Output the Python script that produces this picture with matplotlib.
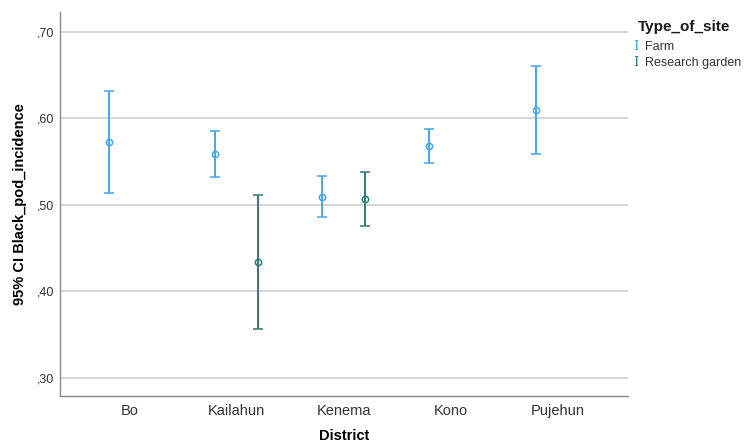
import matplotlib
import matplotlib.pyplot as plt
import numpy as np

matplotlib.use("Agg")
plt.rcParams["font.family"] = ["Liberation Sans", "DejaVu Sans"]

districts = ["Bo", "Kailahun", "Kenema", "Kono", "Pujehun"]

# Farm: mean, lower, upper
farm_mean = [0.573, 0.559, 0.509, 0.568, 0.610]
farm_low = [0.514, 0.532, 0.486, 0.548, 0.559]
farm_high = [0.632, 0.585, 0.533, 0.588, 0.661]

# Research garden (only Kailahun and Kenema)
rg_idx = [1, 2]
rg_mean = [0.434, 0.507]
rg_low = [0.357, 0.476]
rg_high = [0.512, 0.538]

farm_color = "#45a6ee"
rg_color = "#2e7c74"

fig = plt.figure(figsize=(7.44, 4.46), dpi=100)
ax = fig.add_axes([0.0806, 0.112, 0.763, 0.861])

x = np.arange(len(districts))
dodge = 0.2

fm = np.array(farm_mean)
ax.errorbar(x - dodge, fm, yerr=[fm - np.array(farm_low), np.array(farm_high) - fm],
            fmt="o", mfc="none", mec=farm_color, ms=4.5, mew=1.1,
            ecolor=farm_color, elinewidth=1.4, capsize=3.8, capthick=1.4, zorder=3)

rm = np.array(rg_mean)
ax.errorbar(np.array(rg_idx) + dodge, rm, yerr=[rm - np.array(rg_low), np.array(rg_high) - rm],
            fmt="o", mfc="none", mec=rg_color, ms=4.5, mew=1.1,
            ecolor=rg_color, elinewidth=1.4, capsize=3.8, capthick=1.4, zorder=3)

ax.set_xlim(-0.654, 4.654)
ax.set_ylim(0.279, 0.723)
yt = [0.30, 0.40, 0.50, 0.60, 0.70]
ax.set_yticks(yt)
ax.set_yticklabels([f"{v:.2f}".replace("0.", ",") for v in yt], fontsize=9, color="#333333")
ax.set_xticks(x)
ax.set_xticklabels(districts, fontsize=10.5, color="#333333")
ax.tick_params(length=0, pad=6, axis="x")
ax.tick_params(length=0, pad=4, axis="y")
ax.grid(axis="y", color="#d0d0d0", linewidth=1.2)
ax.set_axisbelow(True)

for s in ["top", "right"]:
    ax.spines[s].set_visible(False)
for s in ["left", "bottom"]:
    ax.spines[s].set_color("#8a8a8a")
    ax.spines[s].set_linewidth(1.0)

ax.set_xlabel("District", fontsize=10.5, fontweight="bold", labelpad=8)
ax.set_ylabel("95% CI Black_pod_incidence", fontsize=10.5, fontweight="bold", labelpad=7)

# legend drawn as text
fig.text(638 / 744, 1 - 27 / 446, "Type_of_site", fontsize=11, fontweight="bold",
         va="center", ha="left", color="#1a1a1a")
fig.text(633 / 744, 1 - 47 / 446, "I", fontsize=9.5, color=farm_color, va="center", ha="left",
         family="DejaVu Serif")
fig.text(645 / 744, 1 - 47 / 446, "Farm", fontsize=9, color="#333333", va="center", ha="left")
fig.text(633 / 744, 1 - 63 / 446, "I", fontsize=9.5, color=rg_color, va="center", ha="left",
         family="DejaVu Serif")
fig.text(645 / 744, 1 - 63 / 446, "Research garden", fontsize=9, color="#333333", va="center", ha="left")

fig.savefig("out.png", dpi=100)
